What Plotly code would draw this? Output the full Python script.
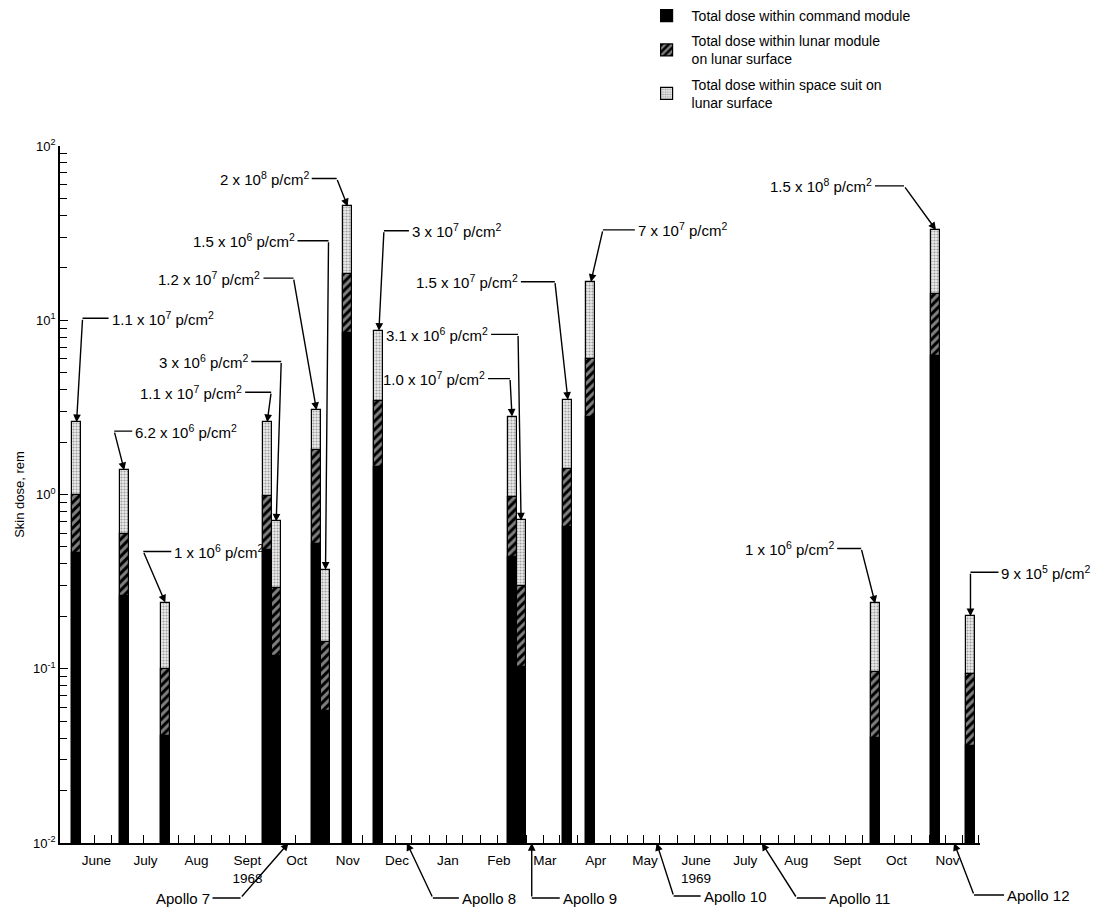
import math
import pandas as pd
import plotly.graph_objects as go

# ---------------------------------------------------------------------------
# Solar particle events 1968-1969 and the skin dose they would have delivered.
# Each dose value is the cumulative top of that shielding layer (rem).
# ---------------------------------------------------------------------------
event_dates = [
    "1968-05-31", "1968-06-29", "1968-07-24",
    "1968-09-24", "1968-09-29 12:00",
    "1968-10-24", "1968-10-29 12:00",
    "1968-11-12", "1968-12-01",
    "1969-02-20", "1969-02-25 12:00",
    "1969-03-26", "1969-04-09",
    "1969-09-29", "1969-11-05", "1969-11-26",
]
cm_dose = [0.46, 0.26, 0.041, 0.48, 0.118, 0.52, 0.057, 8.5, 1.43,
           0.44, 0.103, 0.65, 2.8, 0.040, 6.2, 0.036]
lm_dose = [0.99, 0.59, 0.10, 0.98, 0.29, 1.8, 0.143, 18.4, 3.44,
           0.97, 0.30, 1.41, 6.0, 0.096, 14.1, 0.093]
suit_dose = [2.6, 1.38, 0.24, 2.6, 0.70, 3.05, 0.37, 45.0, 8.7,
             2.8, 0.71, 3.5, 16.6, 0.237, 33.0, 0.20]

# Proton fluence of each event: (mantissa, exponent)
fluence_mantissa = ["1.1", "6.2", "1", "1.1", "3", "1.2", "1.5", "2", "3",
                    "1.0", "3.1", "1.5", "7", "1", "1.5", "9"]
fluence_exponent = [7, 6, 6, 7, 6, 7, 6, 8, 7, 7, 6, 7, 7, 6, 8, 5]

# Month labels along the time axis
month_names = ["June", "July", "Aug", "Sept<br>1968", "Oct", "Nov", "Dec",
               "Jan", "Feb", "Mar", "Apr", "May", "June<br>1969", "July",
               "Aug", "Sept", "Oct", "Nov"]
month_starts = pd.date_range("1968-06-01", "1969-11-01", freq="MS")

# Apollo launches marked beneath the axis
apollo_names = ["Apollo 7", "Apollo 8", "Apollo 9", "Apollo 10",
                "Apollo 11", "Apollo 12"]
apollo_dates = ["1968-10-07", "1968-12-18", "1969-03-04", "1969-05-19",
                "1969-07-22", "1969-11-16"]

# ---------------------------------------------------------------------------
# Leader-line geometry in screen pixels: elbow offset (dx, dy) from the
# arrow tip, then the horizontal run toward the label (sign = side).
# ---------------------------------------------------------------------------
fluence_leaders = [
    (6, -104, 26), (-10, -39, 18), (-22, -51, 28),
    (4, -30, -26), (5, -160, -30),
    (-23, -132, -30), (3, -329, -31),
    (-11, -28, -25), (5, -100, 25),
    (-2, -38, -22), (-3, -186, -27),
    (-13, -118, -34), (12, -52, 32),
    (-14, -55, -24), (-32, -44, -29), (0, -44, 28),
]
apollo_leaders = [(-48, 55, -28), (26, 55, 26), (0, 55, 28),
                  (17, 53, 27), (35, 55, 29), (20, 52, 30)]

FONT = "Liberation Sans"
INK = "black"
BAR_WIDTH_MS = 5.5 * 86400000

fig = go.Figure()

# Stacked look on a log axis: draw tallest layer first, overlay the others.
fig.add_trace(go.Bar(
    x=event_dates, y=suit_dose, width=[BAR_WIDTH_MS] * len(event_dates),
    name="Total dose within space suit on<br>lunar surface",
    legendrank=3, legendgroup="suit",
    marker=dict(color="white", line=dict(color=INK, width=1.2),
                pattern=dict(shape=".", fgcolor="#505050", bgcolor="#ececec",
                             size=3, solidity=0.4)),
))
fig.add_trace(go.Bar(
    x=event_dates, y=lm_dose, width=[BAR_WIDTH_MS] * len(event_dates),
    name="Total dose within lunar module<br>on lunar surface",
    legendrank=2, legendgroup="lm",
    marker=dict(color="black", line=dict(color=INK, width=1.2),
                pattern=dict(shape="/", fgcolor="white", bgcolor="black",
                             size=6, solidity=0.5)),
))
fig.add_trace(go.Bar(
    x=event_dates, y=cm_dose, width=[BAR_WIDTH_MS] * len(event_dates),
    name="Total dose within command module",
    legendrank=1, legendgroup="cm",
    marker=dict(color="black", line=dict(color=INK, width=1.2)),
))

annotations = []


def add_leader(x, y, yref, dx, dy, run, text, size):
    """Arrow from an elbow to (x, y), then a horizontal run to the label."""
    annotations.append(dict(
        x=x, y=y, xref="x", yref=yref, ax=dx, ay=dy,
        axref="pixel", ayref="pixel", text="", showarrow=True,
        arrowhead=2, arrowsize=1.1, arrowwidth=1.4, arrowcolor=INK,
        standoff=0))
    annotations.append(dict(
        x=x, y=y, xref="x", yref=yref, xshift=dx, yshift=-dy,
        ax=run, ay=0, axref="pixel", ayref="pixel", text=text,
        showarrow=True, arrowhead=0, arrowwidth=1.4, arrowcolor=INK,
        xanchor="left" if run > 0 else "right", yanchor="middle",
        borderpad=2, font=dict(family=FONT, size=size, color=INK)))


for d, top, man, exp, (dx, dy, run) in zip(
        event_dates, suit_dose, fluence_mantissa, fluence_exponent,
        fluence_leaders):
    label = f"{man} x 10<sup>{exp}</sup> p/cm<sup>2</sup>"
    add_leader(d, math.log10(top), "y", dx, dy, run, label, 15)

for d, name, (dx, dy, run) in zip(apollo_dates, apollo_names,
                                  apollo_leaders):
    add_leader(d, 0, "paper", dx, dy, run, name, 15)

# Minor ticks every ten days along the time axis
day_ticks = [d for m in pd.date_range("1968-06-01", "1969-12-01", freq="MS")
             for d in (m, m + pd.Timedelta(days=10), m + pd.Timedelta(days=20))]
label_dates = [m + pd.Timedelta(days=11) for m in month_starts]

decades = [0.01, 0.1, 1, 10, 100]
minor_y = [k * d for d in decades[:-1] for k in range(2, 10)]

fig.update_layout(
    width=1093, height=911,
    margin=dict(l=60, r=113, t=146, b=68, autoexpand=False),
    paper_bgcolor="white", plot_bgcolor="white",
    barmode="overlay", bargap=0,
    font=dict(family=FONT, size=13, color=INK),
    showlegend=True,
    legend=dict(xref="container", yref="container", x=0.587, y=1.0,
                xanchor="left", yanchor="top", traceorder="grouped",
                bgcolor="rgba(0,0,0,0)", font=dict(size=14),
                itemwidth=40, tracegroupgap=4),
    annotations=annotations,
    xaxis=dict(
        type="date", range=["1968-05-20 22:00", "1969-12-01 19:00"],
        showline=True, linecolor=INK, linewidth=1.5, showgrid=False,
        zeroline=False, tickmode="array",
        tickvals=label_dates, ticktext=month_names, ticks="",
        ticklabelstandoff=4,
        tickfont=dict(family=FONT, size=13.5, color=INK),
        minor=dict(tickmode="array", tickvals=day_ticks, ticks="inside",
                   ticklen=8, tickwidth=1.2, tickcolor=INK, showgrid=False),
    ),
    yaxis=dict(
        type="log", range=[-2, 2], showline=True, linecolor=INK,
        linewidth=1.5, showgrid=False, zeroline=False,
        tickmode="array", tickvals=decades,
        ticktext=["10<sup>-2</sup>", "10<sup>-1</sup>", "10<sup>0</sup>",
                  "10<sup>1</sup>", "10<sup>2</sup>"],
        ticks="inside", ticklen=8, tickwidth=1.2, tickcolor=INK,
        tickfont=dict(family=FONT, size=13, color=INK),
        title=dict(text="Skin dose, rem", font=dict(size=13), standoff=6),
        minor=dict(tickmode="array", tickvals=minor_y, ticks="inside",
                   ticklen=7, tickwidth=1.2, tickcolor=INK, showgrid=False),
    ),
)

fig.write_html("out.html")
